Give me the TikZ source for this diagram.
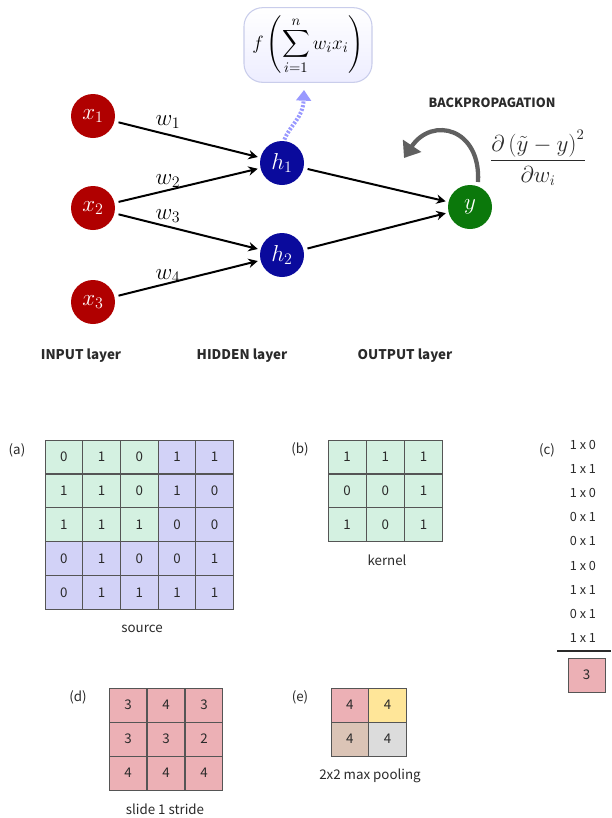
\documentclass[tikz,border=0pt]{standalone}
\usepackage{fontspec}
\usepackage{amsmath}
\setmainfont{Liberation Serif}
\newfontfamily\sansf{Noto Sans CJK KR}
\usetikzlibrary{arrows.meta,shapes.geometric}
\definecolor{nred}{HTML}{B00000}
\definecolor{nblue}{HTML}{0A0A9C}
\definecolor{ngreen}{HTML}{0B780B}
\definecolor{grn}{HTML}{D4F1E1}
\definecolor{lav}{HTML}{D2D2F7}
\definecolor{pnk}{HTML}{ECB0B5}
\definecolor{ylw}{HTML}{FFE699}
\definecolor{tan}{HTML}{DBC4B6}
\definecolor{lgr}{HTML}{DCDCDC}
\definecolor{gline}{HTML}{555555}
\definecolor{txt}{HTML}{2A2A2A}
\definecolor{fbox}{HTML}{C9CDEB}
\tikzset{
  neuron/.style={circle,minimum size=33pt,inner sep=0pt,text=white,font=\fontsize{17}{17}\selectfont},
  wlab/.style={font=\fontsize{17}{17}\selectfont,inner sep=0pt},
  conn/.style={line width=1.5pt,-{Stealth[length=7pt,width=7pt]},shorten <=3pt,shorten >=2pt},
  cell/.style={draw=gline,line width=0.6pt,minimum width=28.3pt,minimum height=25.4pt,inner sep=0pt,text=txt,font=\sansf\fontsize{10}{10}\selectfont},
  lbl/.style={text=txt,font=\sansf\fontsize{10}{11}\selectfont,inner sep=0pt},
  layerlab/.style={text=txt,font=\sansf\bfseries\fontsize{10}{11}\selectfont,inner sep=0pt},
  prod/.style={text=txt,font=\sansf\fontsize{9.5}{10}\selectfont,inner sep=0pt}
}
\begin{document}
\begin{tikzpicture}[x=0.75pt,y=-0.75pt]
\useasboundingbox[fill=white] (0,0) rectangle (611,818);

% ---------- neural network ----------
\node[neuron,fill=nred] (x1) at (93,116) {$x_1$};
\node[neuron,fill=nred] (x2) at (93,208) {$x_2$};
\node[neuron,fill=nred] (x3) at (93,302) {$x_3$};
\node[neuron,fill=nblue] (h1) at (282,163) {$h_1$};
\node[neuron,fill=nblue] (h2) at (282,255) {$h_2$};
\node[neuron,fill=ngreen] (y) at (470,207) {$y$};

\draw[conn] (x1) -- (h1);
\draw[conn] (x2) -- (h1);
\draw[conn] (x2) -- (h2);
\draw[conn] (x3) -- (h2);
\draw[conn] (h1) -- (y);
\draw[conn] (h2) -- (y);

\node[wlab] (w1) at (168,122) {$w_1$};
\node[wlab] (w2) at (168,181) {$w_2$};
\node[wlab] (w3) at (168,216) {$w_3$};
\node[wlab] (w4) at (168,276) {$w_4$};

% activation formula box
\node[draw=fbox,line width=0.8pt,rounded corners=14pt,top color=white,bottom color=blue!7,
      minimum width=96pt,minimum height=56pt,inner sep=0pt,font=\fontsize{15}{17}\selectfont]
      (fx) at (308,45) {$\displaystyle f\left(\sum_{i=1}^{n} w_i x_i\right)$};
\coordinate (fup) at (304,90);
\draw[blue!40,line width=3pt,dash pattern=on 1.6pt off 1.2pt,-{Triangle[length=8pt,width=11pt]},shorten <=1pt]
  (h1.85) .. controls (290,125) and (303,118) .. (fup);

% backpropagation
\node[text=txt,font=\sansf\bfseries\fontsize{9.5}{10}\selectfont,inner sep=0pt] (bp) at (492,103) {BACKPROPAGATION};
\node[font=\fontsize{16}{18}\selectfont,inner sep=0pt,text=txt] (grad) at (538,158)
  {$\dfrac{\partial\left(\tilde{y}-y\right)^{2}}{\partial w_i}$};
\coordinate (bps) at (478,182);
\coordinate (bpe) at (404,158);
\draw[gray!75!black,line width=3.2pt,-{Triangle[length=11pt,width=16pt]}]
  (bps) .. controls (481,128) and (432,116) .. (bpe);

\node[layerlab] (inl) at (81,356) {INPUT layer};
\node[layerlab] (hidl) at (242,356) {HIDDEN layer};
\node[layerlab] (outl) at (405,356) {OUTPUT layer};

% ---------- (a) source ----------
\node[lbl] (la) at (17,450) {(a)};
\foreach \r/\row in {1/{0,1,0,1,1},2/{1,1,0,1,0},3/{1,1,1,0,0},4/{0,1,0,0,1},5/{0,1,1,1,1}}{
  \foreach \v [count=\c] in \row {
    \def\cf{lav}\ifnum\r<4 \ifnum\c<4 \def\cf{grn}\fi\fi
    \node[cell,fill=\cf] (src-\r-\c) at ({45+37.7*(\c-0.5)},{440+33.9*(\r-0.5)}) {\v};
  }
}
\node[lbl] (lsrc) at (142,629) {source};

% ---------- (b) kernel ----------
\node[lbl] (lb) at (300,449) {(b)};
\foreach \r/\row in {1/{1,1,1},2/{0,0,1},3/{1,0,1}}{
  \foreach \v [count=\c] in \row {
    \node[cell,fill=grn] (ker-\r-\c) at ({328+38.2*(\c-0.5)},{440+33.9*(\r-0.5)}) {\v};
  }
}
\node[lbl] (lker) at (387,560) {kernel};

% ---------- (c) products ----------
\node[lbl] (lc) at (547,450) {(c)};
\foreach \t [count=\i] in {1 x 0,1 x 1,1 x 0,0 x 1,0 x 1,1 x 0,1 x 1,0 x 1,1 x 1}{
  \node[prod] (p\i) at (583,{445+24.1*(\i-1)}) {\t};
}
\coordinate (rl) at (557,651);
\coordinate (rr) at (611,651);
\draw[line width=1.1pt,txt] (rl) -- (rr);
\node[cell,fill=pnk,minimum width=27.8pt,minimum height=25.4pt] (sum) at (586.5,675) {3};

% ---------- (d) feature map ----------
\node[lbl] (ld) at (78,697) {(d)};
\foreach \r/\row in {1/{3,4,3},2/{3,3,2},3/{4,4,4}}{
  \foreach \v [count=\c] in \row {
    \node[cell,fill=pnk] (fm-\r-\c) at ({109+38*(\c-0.5)},{688+34*(\r-0.5)}) {\v};
  }
}
\node[lbl] (ldd) at (165,809) {slide 1 stride};

% ---------- (e) pooling ----------
\node[lbl] (le) at (300,697) {(e)};
\node[cell,fill=pnk] (pl-1-1) at ({331+37.7*0.5},{688+34*0.5}) {4};
\node[cell,fill=ylw] (pl-1-2) at ({331+37.7*1.5},{688+34*0.5}) {4};
\node[cell,fill=tan] (pl-2-1) at ({331+37.7*0.5},{688+34*1.5}) {4};
\node[cell,fill=lgr] (pl-2-2) at ({331+37.7*1.5},{688+34*1.5}) {4};
\node[lbl] (lee) at (370,776) {2x2 max pooling};
\end{tikzpicture}
\end{document}
